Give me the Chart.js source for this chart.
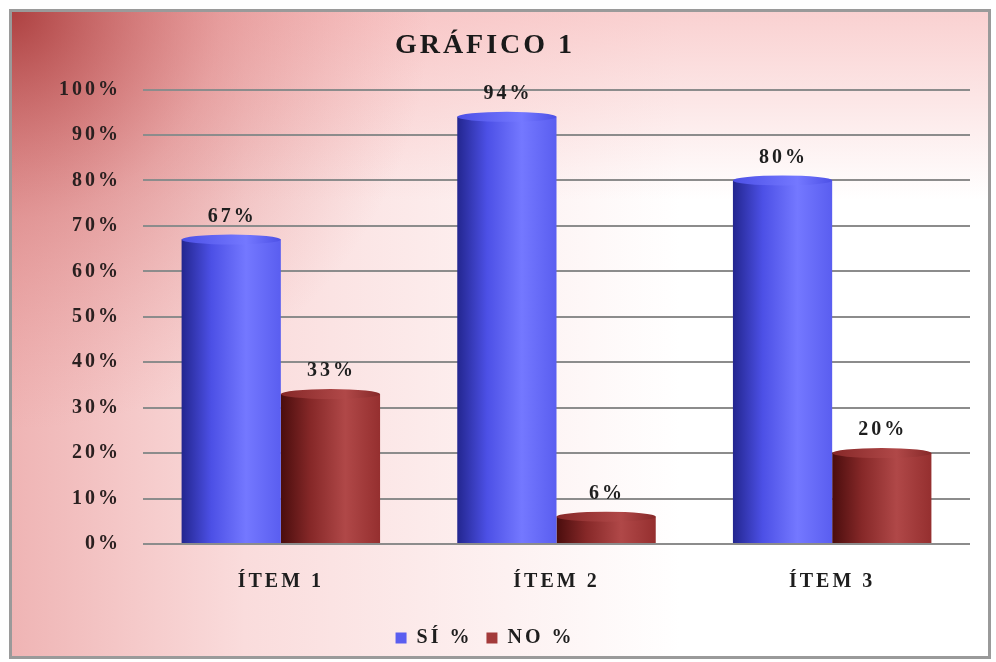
<!DOCTYPE html>
<html>
<head>
<meta charset="utf-8">
<style>
  html, body { margin: 0; padding: 0; background: #fff; }
  #wrap { width: 996px; height: 662px; }
</style>
<script src="https://cdn.jsdelivr.net/npm/chart.js@4.4.1/dist/chart.umd.min.js"></script>
</head>
<body>
<div id="wrap"><canvas id="chart"></canvas></div>
<script>
const categories = ['ÍTEM 1', 'ÍTEM 2', 'ÍTEM 3'];
const siValues = [67, 94, 80];
const noValues = [33, 6, 20];
const seriesNames = ['SÍ %', 'NO %'];
const chartTitle = 'GRÁFICO 1';

const FONT = '"Liberation Serif", "DejaVu Serif", serif';
const SPACING = '3px';

// cylinder look: left dark, light streak, slightly darker right edge
const shades = [
  ['#23268f', '#4c50e6', '#7478ff', '#5a5ef0'],
  ['#4a0d0d', '#862828', '#b04848', '#952f2f']
];
const flat = ['#5a5ef0', '#a33a3a'];

function barFill(ctx) {
  const chart = ctx.chart;
  const x = chart.scales && chart.scales.x;
  if (!x || !chart.chartArea) return flat[ctx.datasetIndex];
  const catW = (x.right - x.left) / categories.length;
  const barW = catW * 0.72 / 2;
  const center = x.getPixelForValue(ctx.dataIndex);
  const left = center - barW + ctx.datasetIndex * barW;
  const g = chart.ctx.createLinearGradient(left, 0, left + barW, 0);
  const s = shades[ctx.datasetIndex];
  g.addColorStop(0, s[0]);
  g.addColorStop(0.3, s[1]);
  g.addColorStop(0.65, s[2]);
  g.addColorStop(1, s[3]);
  return g;
}

// the source picture has wide lettering
const spacing = {
  id: 'spacing',
  beforeLayout(chart) { chart.ctx.letterSpacing = SPACING; },
  beforeDraw(chart) { chart.ctx.letterSpacing = SPACING; }
};

const backdrop = {
  id: 'backdrop',
  beforeDraw(chart) {
    const c = chart.ctx;
    const w = chart.width, h = chart.height;
    c.save();
    c.fillStyle = '#fff';
    c.fillRect(0, 0, w, h);
    let g = c.createLinearGradient(10, 0, 680, 0);
    g.addColorStop(0, '#efb4b4');
    g.addColorStop(0.35, '#fadcdc');
    g.addColorStop(1, '#ffffff');
    c.fillStyle = g;
    c.fillRect(10, 10, 980, 648);
    g = c.createLinearGradient(0, 10, 0, 200);
    g.addColorStop(0, 'rgba(245,170,170,0.55)');
    g.addColorStop(1, 'rgba(245,170,170,0)');
    c.fillStyle = g;
    c.fillRect(10, 10, 980, 648);
    g = c.createRadialGradient(10, 10, 0, 10, 10, 420);
    g.addColorStop(0, 'rgba(160,45,45,0.85)');
    g.addColorStop(0.5, 'rgba(200,90,90,0.35)');
    g.addColorStop(1, 'rgba(220,120,120,0)');
    c.fillStyle = g;
    c.fillRect(10, 10, 980, 648);
    c.strokeStyle = '#9a9a9a';
    c.lineWidth = 3;
    c.strokeRect(10.5, 10.5, 979, 647);
    c.restore();
  }
};

const caps = {
  id: 'caps',
  afterDatasetsDraw(chart) {
    const c = chart.ctx;
    c.save();
    chart.data.datasets.forEach((ds, di) => {
      chart.getDatasetMeta(di).data.forEach((bar, i) => {
        const half = bar.width / 2;
        const g = c.createLinearGradient(bar.x - half, 0, bar.x + half, 0);
        const s = shades[di];
        g.addColorStop(0, s[1]);
        g.addColorStop(0.65, s[2]);
        g.addColorStop(1, s[1]);
        c.fillStyle = g;
        c.beginPath();
        c.ellipse(bar.x, bar.y, half, 5, 0, 0, Math.PI * 2);
        c.fill();
        c.fillStyle = '#1e1e1e';
        c.font = 'bold 20px ' + FONT;
        c.textAlign = 'center';
        c.textBaseline = 'middle';
        c.fillText(ds.data[i] + '%', bar.x + 1, bar.y - 23);
      });
    });
    c.restore();
  }
};

new Chart(document.getElementById('chart'), {
  type: 'bar',
  data: {
    labels: categories,
    datasets: [
      { label: seriesNames[0], data: siValues, backgroundColor: barFill },
      { label: seriesNames[1], data: noValues, backgroundColor: barFill }
    ]
  },
  options: {
    responsive: true,
    maintainAspectRatio: false,
    animation: false,
    layout: { padding: { left: 0, right: 26, bottom: 4 } },
    datasets: {
      bar: { categoryPercentage: 0.72, barPercentage: 1, borderWidth: 0 }
    },
    scales: {
      x: {
        grid: { display: false },
        border: { display: false },
        ticks: {
          color: '#1e1e1e',
          padding: 18,
          font: { family: FONT, size: 20, weight: 'bold' }
        },
        afterFit(scale) { scale.height = 70; }
      },
      y: {
        min: 0,
        max: 100,
        ticks: {
          stepSize: 10,
          color: '#2a2020',
          padding: 22,
          font: { family: FONT, size: 20, weight: 'bold' },
          callback: v => v + '%'
        },
        grid: { color: '#8c8c8c', lineWidth: 2, drawTicks: false },
        border: { display: false },
        afterFit(scale) { scale.width = 143; }
      }
    },
    plugins: {
      title: {
        display: true,
        text: chartTitle,
        color: '#1a1a1a',
        font: { family: FONT, size: 28, weight: 'bold' },
        padding: { top: 29, bottom: 27 }
      },
      legend: {
        position: 'bottom',
        labels: {
          color: '#1e1e1e',
          boxWidth: 11,
          boxHeight: 11,
          padding: 14,
          font: { family: FONT, size: 20, weight: 'bold' },
          generateLabels(chart) {
            return chart.data.datasets.map((ds, i) => ({
              text: ds.label,
              fillStyle: flat[i],
              strokeStyle: flat[i],
              lineWidth: 0,
              datasetIndex: i,
              fontColor: '#1e1e1e'
            }));
          }
        }
      },
      tooltip: { enabled: false }
    }
  },
  plugins: [spacing, backdrop, caps]
});
</script>
</body>
</html>
